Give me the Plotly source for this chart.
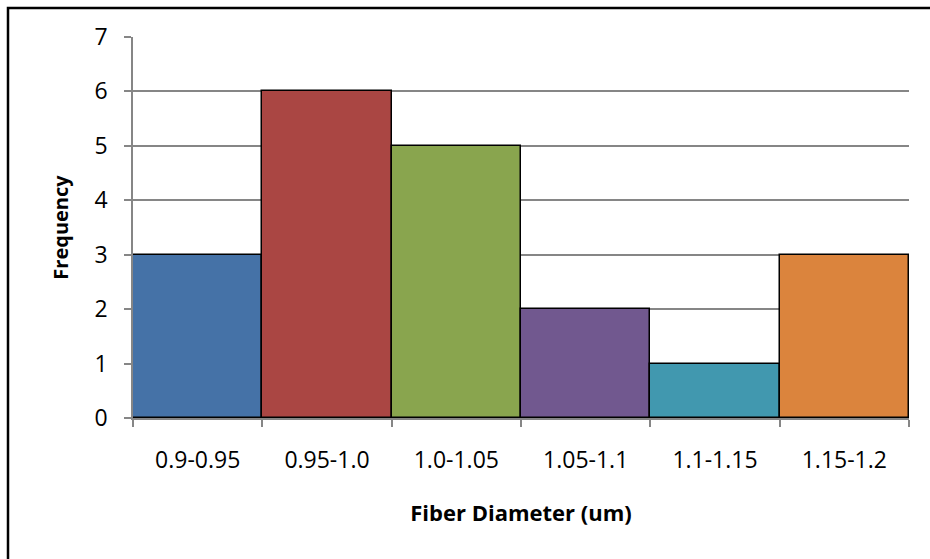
import plotly.graph_objects as go

categories = ["0.9-0.95", "0.95-1.0", "1.0-1.05", "1.05-1.1", "1.1-1.15", "1.15-1.2"]
frequency = [3, 6, 5, 2, 1, 3]
colors = ["#4572A7", "#AA4643", "#89A54E", "#71588F", "#4198AF", "#DB843D"]
y_ticks = [0, 1, 2, 3, 4, 5, 6, 7]

L, R, T, B = 133, 21, 37, 141
W, H = 930, 559
pw, ph = W - L - R, H - T - B

fig = go.Figure(go.Bar(
    x=categories, y=frequency,
    marker=dict(color=colors, line=dict(color="black", width=1.5)),
    width=1.0,
))

font_family = "Open Sans, sans-serif"

fig.update_layout(
    width=W, height=H,
    margin=dict(l=L, r=R, t=T, b=B),
    paper_bgcolor="white", plot_bgcolor="white",
    bargap=0,
    showlegend=False,
    font=dict(family=font_family, color="black"),
    xaxis=dict(
        type="category",
        tickson="boundaries",
        ticks="outside", ticklen=7, tickcolor="#868686", tickwidth=1.5,
        showline=True, linecolor="#868686", linewidth=1.5,
        showgrid=False,
        tickfont=dict(size=23, family=font_family),
        ticklabelstandoff=21,
        title=dict(text="<b>Fiber Diameter (um)</b>", font=dict(size=22, family=font_family), standoff=31),
        range=[-0.5, 5.5],
    ),
    yaxis=dict(
        range=[0, 7],
        tickvals=y_ticks,
        ticks="outside", ticklen=7, tickcolor="#868686", tickwidth=1.5,
        showline=True, linecolor="#868686", linewidth=1.5,
        showgrid=True, gridcolor="#868686", gridwidth=1.5,
        zeroline=False,
        tickfont=dict(size=23, family=font_family),
        ticklabelstandoff=12,
        title=dict(text="<b>Frequency</b>", font=dict(size=20, family=font_family), standoff=20),
    ),
)

# outer chart border
fig.add_shape(
    type="rect", xref="paper", yref="paper",
    x0=(8 - L) / pw, x1=(940 - L) / pw,
    y0=-(570 - (H - B)) / ph, y1=1 + (T - 8) / ph,
    line=dict(color="black", width=2.5), fillcolor="rgba(0,0,0,0)", layer="above",
)

fig.write_html("out.html")
